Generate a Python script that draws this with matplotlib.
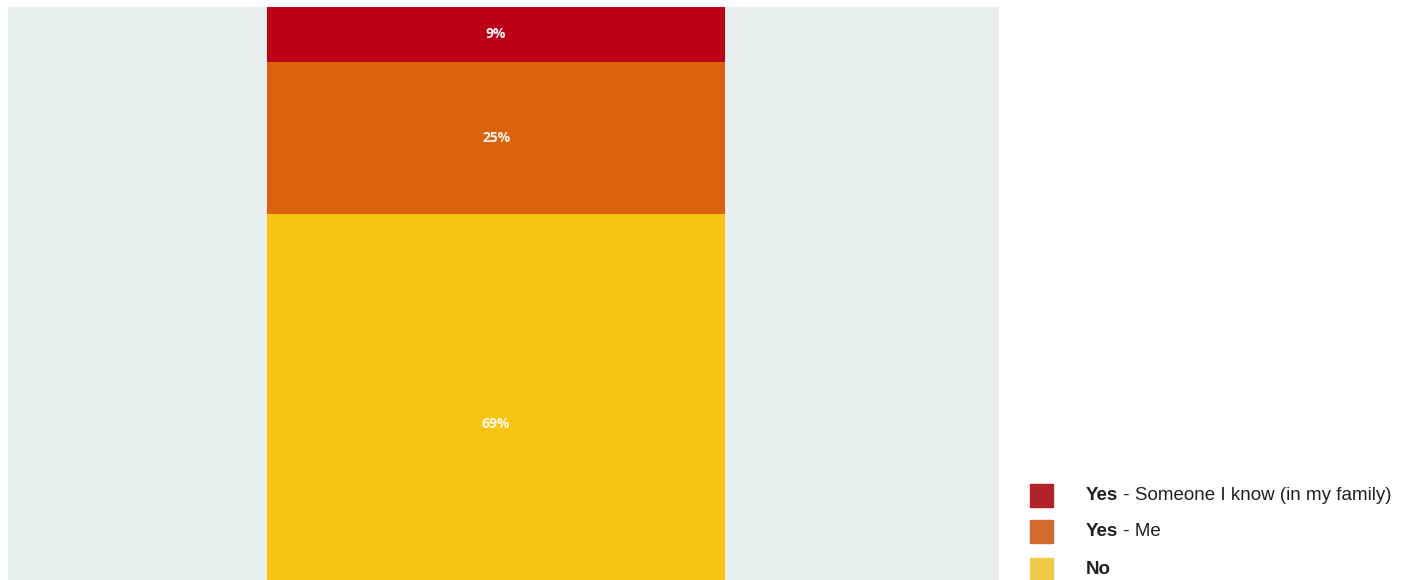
import matplotlib.pyplot as plt
from matplotlib.patches import Rectangle

# survey answers, stacked bottom to top
answers = ["No", "Yes - Me", "Yes - Someone I know (in my family)"]
shares = [69, 25, 9]
bar_colors = ["#F7C511", "#DC6210", "#BC0018"]

# legend rows, top to bottom
legend_bold = ["Yes", "Yes", "No"]
legend_rest = [" - Someone I know (in my family)", " - Me", ""]
legend_colors = ["#B22228", "#D2692E", "#F0CA48"]

fig = plt.figure(figsize=(14.13, 5.8), dpi=100)
ax = fig.add_axes([8 / 1413, 0, 991 / 1413, 573 / 580])
ax.set_facecolor("#E8EDEE")

bottom = 0
for share, color in zip(shares, bar_colors):
    ax.bar(0, share, width=1.0, bottom=bottom, color=color, edgecolor="none")
    ax.text(0, bottom + share / 2, f"{share}%", ha="center", va="center",
            color="#FFF8F0", fontsize=10, fontweight="bold", family="Open Sans")
    bottom += share

ax.set_xlim(-1.066, 1.098)
ax.set_ylim(8.9, bottom)
ax.set_xticks([])
ax.set_yticks([])
for side in ax.spines.values():
    side.set_visible(False)

# hand-made legend in the lower right corner
row_y = [495, 531, 569]
for y, bold, rest, color in zip(row_y, legend_bold, legend_rest, legend_colors):
    fig.patches.append(Rectangle((1030 / 1413, 1 - (y + 11.5) / 580), 23 / 1413, 23 / 580,
                                 transform=fig.transFigure, color=color))
    t = fig.text(1086 / 1413, 1 - y / 580, bold, ha="left", va="center",
                 fontsize=13.5, fontweight="bold", color="#231F20",
                 family="Liberation Sans")
    if rest:
        ax.annotate(rest, xy=(1, 0), xycoords=t, ha="left", va="bottom",
                    fontsize=13.5, color="#231F20", family="Liberation Sans",
                    annotation_clip=False)

fig.savefig("out.png", dpi=100)
